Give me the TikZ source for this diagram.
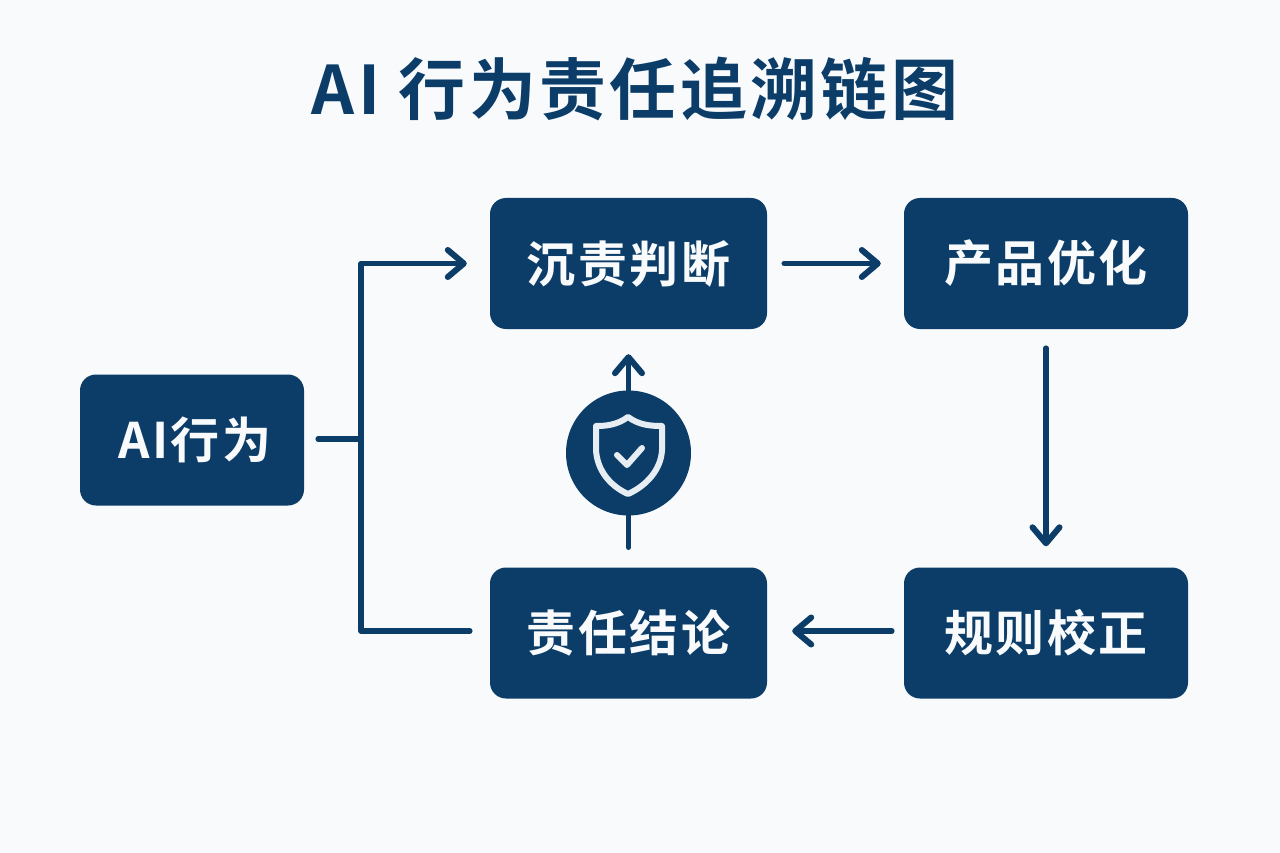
\documentclass[tikz,border=0pt]{standalone}
\usepackage{fontspec}
\usepackage{xcolor}
\usetikzlibrary{arrows.meta}
\newfontfamily\titlefont[LetterSpace=5]{Noto Sans CJK SC Bold}
\newfontfamily\boxfont[LetterSpace=5]{Noto Sans CJK SC Bold}
\definecolor{navy}{HTML}{0B3D68}
\definecolor{paper}{HTML}{F8FAFC}
\definecolor{emblemline}{HTML}{E6EEF3}
\tikzset{
    stepbox/.style={draw=none, fill=navy, rounded corners=16pt, text=paper, inner sep=0pt, minimum height=131pt, font=\boxfont\fontsize{49}{52}\selectfont},
    flow/.style={draw=navy, line width=5.5pt, line cap=round, line join=round},
    flowhead/.style={flow, -{Straight Barb[length=16pt, width=27pt, round, line width=6pt]}},
    badge/.style={circle, fill=navy, minimum size=125pt, inner sep=0pt},
    emblem/.style={draw=emblemline, line width=6pt, line join=round, line cap=round},
}
\begin{document}
\begin{tikzpicture}[x=1pt, y=-1pt]
    \fill[paper] (0,0) rectangle (1280,853);
    \useasboundingbox (0,0) rectangle (1280,853);

    \node (title) at (635,89) {\titlefont\fontsize{67}{74}\selectfont\color{navy}AI 行为责任追溯链图};

    \node[stepbox, minimum width=224pt] (behavior) at (192,440) {\hspace*{6pt}AI行为};
    \node[stepbox, minimum width=277pt] (judge) at (628.5,263.5) {沉责判断};
    \node[stepbox, minimum width=284pt] (optimize) at (1046,263.5) {产品优化};
    \node[stepbox, minimum width=284pt] (correct) at (1046,633) {规则校正};
    \node[stepbox, minimum width=277pt] (conclude) at (628.5,633) {责任结论};
    \node[badge] (shield) at (628.5,453) {};

    \coordinate (branch) at (361,439);

    \draw[flow, shorten <=14pt] (behavior.east |- branch) -- (branch);
    \draw[flowhead, shorten >=23pt] (branch) |- (judge.west);
    \draw[flow, shorten >=20pt] (branch) |- ([yshift=2pt]conclude.west);
    \draw[flowhead, shorten <=17pt, shorten >=23pt] (judge.east) -- (optimize.west);
    \draw[flowhead, shorten <=19pt, shorten >=21pt] (optimize.south) -- (correct.north);
    \draw[flowhead, shorten <=12pt, shorten >=25pt] ([yshift=2pt]correct.west) -- ([yshift=2pt]conclude.east);
    \draw[flow, shorten <=20pt] (conclude.north) -- (shield.south);
    \draw[flowhead, shorten >=25pt] (shield.north) -- (judge.south);

    \draw[emblem] (628,417) .. controls (617,425) and (606,426) .. (596,426)
        -- (596,450) .. controls (597,470) and (610,486) .. (628,494)
        .. controls (646,486) and (661,470) .. (662,450)
        -- (662,426) .. controls (650,426) and (639,425) .. (628,417) -- cycle;
    \draw[emblem] (617,455) -- (627,465) -- (642,448);
\end{tikzpicture}
\end{document}
